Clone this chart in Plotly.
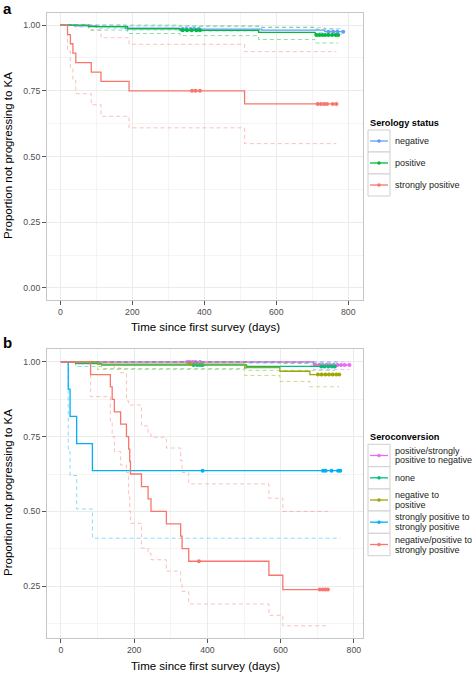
import plotly.graph_objects as go

W, H = 472, 675
FONT = "Liberation Sans, Arial, Helvetica, sans-serif"

# ---------------- Panel a: Serology status ----------------
a_names = ["negative", "positive", "strongly positive"]
a_colors = ["#619CFF", "#00BA38", "#F8766D"]

a_neg_time = [0, 40, 100, 180, 330, 560, 735]
a_neg_surv = [1.0, 0.997, 0.994, 0.988, 0.985, 0.981, 0.975]
a_neg_lower = [1.0, 0.993, 0.988, 0.981, 0.977, 0.972, 0.965]
a_neg_upper = [1.0, 1.0, 1.0, 0.996, 0.994, 0.991, 0.986]
a_neg_censor = [340, 350, 362, 372, 385, 745, 758, 770, 786]

a_pos_time = [0, 79, 187, 333, 551, 708]
a_pos_surv = [1.0, 0.994, 0.986, 0.980, 0.972, 0.962]
a_pos_lower = [1.0, 0.981, 0.968, 0.960, 0.945, 0.932]
a_pos_upper = [1.0, 1.0, 1.0, 0.997, 0.992, 0.985]
a_pos_censor = [340, 352, 365, 378, 388, 712, 720, 728, 736, 745, 755, 765, 772]

a_spos_time = [0, 20, 28, 35, 43, 86, 113, 191, 512]
a_spos_surv = [1.0, 0.964, 0.929, 0.893, 0.857, 0.821, 0.786, 0.750, 0.700]
a_spos_lower = [1.0, 0.900, 0.840, 0.790, 0.739, 0.697, 0.653, 0.609, 0.549]
a_spos_upper = [1.0, 1.0, 1.0, 1.0, 1.0, 0.981, 0.952, 0.927, 0.899]
a_spos_censor = [366, 376, 388, 715, 724, 733, 741, 757, 767]

# ---------------- Panel b: Seroconversion ----------------
b_names = ["positive/strongly|positive to negative", "none", "negative to|positive",
           "strongly positive to|strongly positive", "negative/positive to|strongly positive"]
b_colors = ["#E76BF3", "#00BF7D", "#A3A500", "#00B0F6", "#F8766D"]

b_neg_time = [0, 690]
b_neg_surv = [1.0, 0.990]
b_neg_lower = [1.0, 0.975]
b_neg_upper = [1.0, 1.0]
b_neg_censor = [345, 352, 360, 368, 380, 695, 705, 715, 725, 735, 745, 755, 765, 775, 788]

b_none_time = [0, 40, 111, 507]
b_none_surv = [1.0, 0.995, 0.990, 0.985]
b_none_lower = [1.0, 0.985, 0.978, 0.972]
b_none_upper = [1.0, 1.0, 1.0, 0.996]
b_none_censor = [362, 372, 380, 387, 711, 720, 730, 740, 748]

b_np_time = [0, 100, 502, 598, 680]
b_np_surv = [1.0, 0.993, 0.981, 0.969, 0.958]
b_np_lower = [1.0, 0.975, 0.955, 0.935, 0.917]
b_np_upper = [1.0, 1.0, 1.0, 0.995, 0.990]
b_np_censor = [352, 702, 712, 722, 732, 742, 752, 760]

b_ss_time = [0, 20, 25, 43, 86]
b_ss_surv = [1.0, 0.909, 0.818, 0.727, 0.636]
b_ss_lower = [1.0, 0.700, 0.620, 0.508, 0.410]
b_ss_upper = [1.0, 1.0, 1.0, 1.0, 1.0]
b_ss_censor = [387, 716, 723, 739, 757, 763]

b_ts_time = [0, 81, 135, 140, 146, 163, 179, 185, 188, 190, 220, 238, 246, 288, 327, 331, 349, 568, 606]
b_ts_surv = [1.0, 0.958, 0.917, 0.875, 0.833, 0.792, 0.750, 0.708, 0.667, 0.625, 0.583,
             0.542, 0.500, 0.458, 0.417, 0.375, 0.333, 0.286, 0.238]
b_ts_lower = [1.0, 0.884, 0.800, 0.750, 0.700, 0.655, 0.630, 0.550, 0.500, 0.460, 0.377,
              0.360, 0.338, 0.300, 0.260, 0.232, 0.190, 0.152, 0.117]
b_ts_upper = [1.0, 1.0, 1.0, 0.990, 0.980, 0.964, 0.870, 0.860, 0.856, 0.856, 0.786,
              0.760, 0.748, 0.712, 0.670, 0.630, 0.592, 0.544, 0.500]
b_ts_censor = [377, 707, 715, 722, 729]

a_x_ticks = [0, 200, 400, 600, 800]
a_y_ticks = [0.0, 0.25, 0.5, 0.75, 1.0]
b_y_ticks = [0.25, 0.5, 0.75, 1.0]


def rgba(hexc, a):
    h = hexc.lstrip("#")
    return "rgba(%d,%d,%d,%.2f)" % (int(h[0:2], 16), int(h[2:4], 16), int(h[4:6], 16), a)


def step_value(times, vals, t):
    v = vals[0]
    for ti, vi in zip(times, vals):
        if ti <= t:
            v = vi
    return v


fig = go.Figure()


def add_group(times, surv, lower, upper, cens, color, xa, ya):
    end = max(cens)
    xs = list(times) + [end]
    for ci in (lower, upper):
        fig.add_trace(go.Scatter(x=xs, y=list(ci) + [ci[-1]], mode="lines", line_shape="hv",
                                 line=dict(color=rgba(color, 0.45), width=1, dash="4px,3px"),
                                 xaxis=xa, yaxis=ya, showlegend=False, hoverinfo="skip"))
    fig.add_trace(go.Scatter(x=xs, y=list(surv) + [surv[-1]], mode="lines", line_shape="hv",
                             line=dict(color=color, width=1.3), xaxis=xa, yaxis=ya, showlegend=False))
    fig.add_trace(go.Scatter(x=cens, y=[step_value(times, surv, c) for c in cens], mode="markers",
                             marker=dict(color=color, size=4, symbol="circle"),
                             xaxis=xa, yaxis=ya, showlegend=False))


a_sets = [
    (a_neg_time, a_neg_surv, a_neg_lower, a_neg_upper, a_neg_censor),
    (a_pos_time, a_pos_surv, a_pos_lower, a_pos_upper, a_pos_censor),
    (a_spos_time, a_spos_surv, a_spos_lower, a_spos_upper, a_spos_censor),
]
for s, c in zip(a_sets, a_colors):
    add_group(*s, c, "x", "y")

b_sets = [
    (b_neg_time, b_neg_surv, b_neg_lower, b_neg_upper, b_neg_censor),
    (b_none_time, b_none_surv, b_none_lower, b_none_upper, b_none_censor),
    (b_np_time, b_np_surv, b_np_lower, b_np_upper, b_np_censor),
    (b_ss_time, b_ss_surv, b_ss_lower, b_ss_upper, b_ss_censor),
    (b_ts_time, b_ts_surv, b_ts_lower, b_ts_upper, b_ts_censor),
]
for s, c in zip(b_sets, b_colors):
    add_group(*s, c, "x2", "y2")


def px(x):
    return x / W


def py(y):
    return 1 - y / H


axis_common = dict(
    showline=True, mirror=True, linecolor="#C6C6C6", linewidth=1,
    ticks="outside", ticklen=4, tickcolor="#555555", tickwidth=1,
    tickfont=dict(family=FONT, size=8.7, color="#4D4D4D"),
    showgrid=True, gridcolor="#EBEBEB", gridwidth=1, zeroline=False,
)

fig.update_layout(
    width=W, height=H, autosize=False,
    margin=dict(l=0, r=0, t=0, b=0),
    paper_bgcolor="white", plot_bgcolor="white",
    showlegend=False,
    font=dict(family=FONT, color="#000000"),
    xaxis=dict(domain=[px(47), px(363)], anchor="y", range=[-37, 841], tickvals=a_x_ticks,
               minor=dict(dtick=100, tick0=0, showgrid=True, gridcolor="#F4F4F4", ticks=""),
               **axis_common),
    yaxis=dict(domain=[py(300), py(13)], anchor="x", range=[-0.046, 1.046], tickvals=a_y_ticks,
               ticktext=["%.2f" % v for v in a_y_ticks],
               minor=dict(dtick=0.125, tick0=0, showgrid=True, gridcolor="#F4F4F4", ticks=""),
               **axis_common),
    xaxis2=dict(domain=[px(47), px(363)], anchor="y2", range=[-38, 825], tickvals=a_x_ticks,
                minor=dict(dtick=100, tick0=0, showgrid=True, gridcolor="#F4F4F4", ticks=""),
                **axis_common),
    yaxis2=dict(domain=[py(638), py(349)], anchor="x2", range=[0.076, 1.0435], tickvals=b_y_ticks,
                ticktext=["%.2f" % v for v in b_y_ticks],
                minor=dict(dtick=0.125, tick0=0, showgrid=True, gridcolor="#F4F4F4", ticks=""),
                **axis_common),
)

ann = []
shapes = []


def text(x, y, s, size=9, bold=False, color="#1A1A1A", xanchor="left", angle=0):
    ann.append(dict(x=px(x), y=py(y), xref="paper", yref="paper", text=("<b>%s</b>" % s) if bold else s,
                    showarrow=False, xanchor=xanchor, yanchor="middle", textangle=angle,
                    font=dict(family=FONT, size=size, color=color)))


# panel labels
text(1, 8, "a", size=15, bold=True, color="#000000")
text(1, 342, "b", size=15, bold=True, color="#000000")

# axis titles
text(205, 327, "Time since first survey (days)", size=11.5, xanchor="center", color="#000000")
text(205, 666, "Time since first survey (days)", size=11.5, xanchor="center", color="#000000")
text(8, 156, "Proportion not progressing to KA", size=11.5, xanchor="center", angle=-90, color="#000000")
text(8, 493, "Proportion not progressing to KA", size=11.5, xanchor="center", angle=-90, color="#000000")


def key(y0, y1, color):
    shapes.append(dict(type="rect", xref="paper", yref="paper", x0=px(368), x1=px(390), y0=py(y1), y1=py(y0),
                       line=dict(color="#CFCFCF", width=1), fillcolor="white", layer="above"))
    yc = (y0 + y1) / 2
    shapes.append(dict(type="line", xref="paper", yref="paper", x0=px(370), x1=px(388), y0=py(yc), y1=py(yc),
                       line=dict(color=color, width=1.3), layer="above"))
    shapes.append(dict(type="circle", xref="paper", yref="paper", x0=px(377.5), x1=px(380.5),
                       y0=py(yc + 1.5), y1=py(yc - 1.5), line=dict(color=color, width=0.5),
                       fillcolor=color, layer="above"))


# legend a
text(368, 123, "Serology status", size=9.2, bold=True, color="#000000")
a_box = [(130, 152), (152, 174), (174, 196)]
for (y0, y1), name, col in zip(a_box, a_names, a_colors):
    key(y0, y1, col)
    text(393, (y0 + y1) / 2, name, size=9, color="#1A1A1A")

# legend b
text(368, 437, "Seroconversion", size=9.2, bold=True, color="#000000")
b_box = [(444.3, 466.7), (466.7, 489), (489, 511), (511, 533.3), (533.3, 555.7)]
for (y0, y1), name, col in zip(b_box, b_names, b_colors):
    key(y0, y1, col)
    parts = name.split("|")
    yc = (y0 + y1) / 2
    if len(parts) == 1:
        text(393, yc, parts[0], size=9)
    else:
        text(393, yc - 5, parts[0], size=9)
        text(393, yc + 5, parts[1], size=9)

fig.update_layout(annotations=ann, shapes=shapes)
fig.write_html("out.html", config={"displayModeBar": False},
               post_script="document.body.style.margin='0px';document.body.style.overflow='hidden';")
